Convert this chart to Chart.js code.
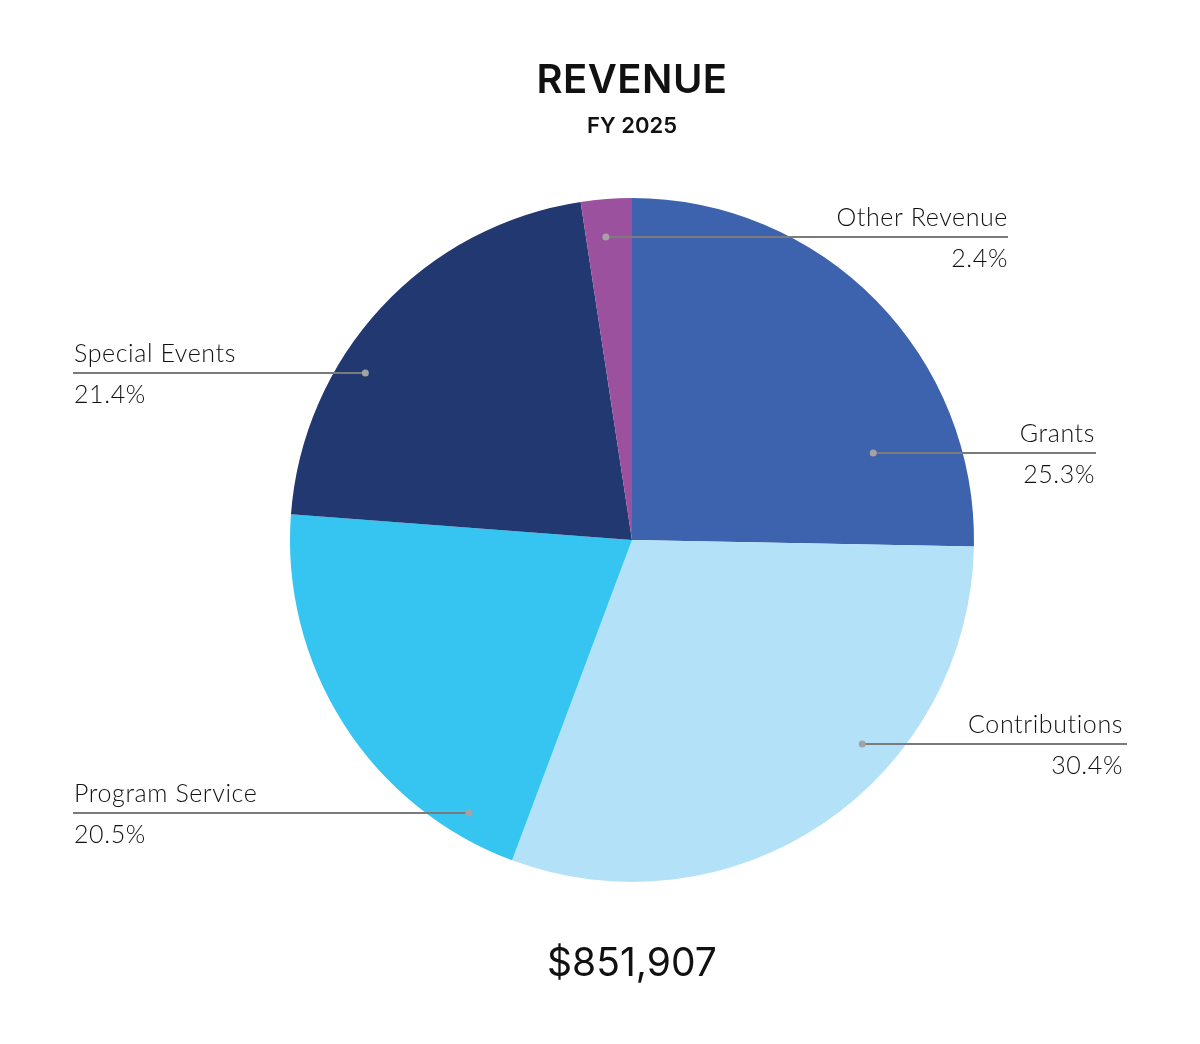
<!DOCTYPE html>
<html>
<head>
<meta charset="utf-8">
<script src="https://cdn.jsdelivr.net/npm/chart.js@4"></script>
<style>
  html, body { margin: 0; padding: 0; background: #fff; }
  #wrap { position: relative; width: 1200px; height: 1044px; }
  #revenueChart { position: absolute; left: 0; top: 0; }
  .txt { position: absolute; left: 0; width: 1264px; text-align: center; color: #111; font-family: Inter, sans-serif; }
  #title { top: 54px; font-size: 40px; font-weight: 600; letter-spacing: 0.5px; }
  #subtitle { top: 112px; font-size: 22px; font-weight: 600; }
  #total { top: 938px; font-size: 39px; font-weight: 400; }
</style>
</head>
<body>
<div id="wrap">
  <canvas id="revenueChart" width="1200" height="1044"></canvas>
  <div class="txt" id="title">REVENUE</div>
  <div class="txt" id="subtitle">FY 2025</div>
  <div class="txt" id="total">$851,907</div>
</div>
<script>
const categories = ['Grants', 'Contributions', 'Program Service', 'Special Events', 'Other Revenue'];
const shares = [25.3, 30.4, 20.5, 21.4, 2.4];
const colors = ['#3d63ae', '#b3e2f8', '#36c4f0', '#213970', '#9b519e'];

// where each leader starts (fraction along slice, fraction of radius) and where its label sits
const leaders = [
  { frac: 0.77, rad: 0.75, side: 'right', edge: 1096, pad: 1 },
  { frac: 0.37, rad: 0.90, side: 'right', edge: 1127, pad: 4 },
  { frac: 0.14, rad: 0.93, side: 'left', edge: 73, pad: 1 },
  { frac: 0.36, rad: 0.92, side: 'left', edge: 73, pad: 1 },
  { frac: 0.43, rad: 0.89, side: 'right', edge: 1008, pad: 0 }
];

const leaderPlugin = {
  id: 'leaders',
  afterDatasetsDraw(chart) {
    const ctx = chart.ctx;
    const meta = chart.getDatasetMeta(0);
    meta.data.forEach((arc, i) => {
      const L = leaders[i];
      const a = arc.startAngle + L.frac * (arc.endAngle - arc.startAngle);
      const r = arc.outerRadius * L.rad;
      const px = arc.x + Math.cos(a) * r;
      const py = Math.round(arc.y + Math.sin(a) * r);
      ctx.save();
      ctx.strokeStyle = '#7b7b7b';
      ctx.lineWidth = 2;
      ctx.beginPath();
      ctx.moveTo(px, py);
      ctx.lineTo(L.edge, py);
      ctx.stroke();
      ctx.fillStyle = '#a3a3a3';
      ctx.beginPath();
      ctx.arc(px, py, 3.5, 0, Math.PI * 2);
      ctx.fill();
      ctx.fillStyle = '#111';
      ctx.font = '300 25px Lato, sans-serif';
      ctx.letterSpacing = '0.6px';
      ctx.textBaseline = 'alphabetic';
      const tx = L.side === 'right' ? L.edge - L.pad : L.edge + L.pad;
      ctx.textAlign = L.side === 'right' ? 'right' : 'left';
      ctx.fillText(categories[i], tx, py - 11);
      ctx.fillText(shares[i].toFixed(1) + '%', tx, py + 30);
      ctx.restore();
    });
  }
};

new Chart(document.getElementById('revenueChart'), {
  type: 'pie',
  data: {
    labels: categories,
    datasets: [{ data: shares, backgroundColor: colors, borderWidth: 0 }]
  },
  options: {
    responsive: false,
    animation: false,
    layout: { padding: { left: 290, right: 226, top: 198, bottom: 162 } },
    plugins: { legend: { display: false }, tooltip: { enabled: false } }
  },
  plugins: [leaderPlugin]
});
</script>
</body>
</html>
